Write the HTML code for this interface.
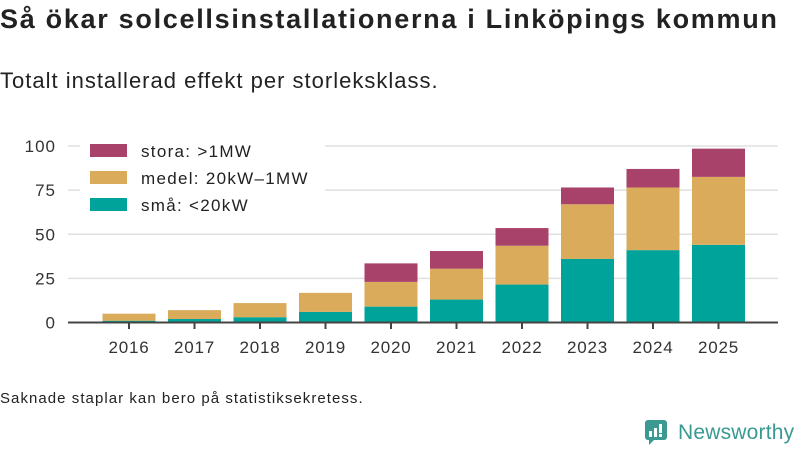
<!DOCTYPE html>
<html><head><meta charset="utf-8"><style>
body{margin:0;width:800px;height:450px;background:#fff;font-family:"Liberation Sans","DejaVu Sans",sans-serif;overflow:hidden;position:relative}
.t{position:absolute;left:0;top:4px;font-size:27px;font-weight:bold;color:#222;letter-spacing:1.7px}
.s{position:absolute;left:0;top:68px;font-size:22px;color:#222;letter-spacing:1px}
.n{position:absolute;left:0;top:390px;font-size:15px;color:#222;letter-spacing:1.05px}
</style></head><body>
<div class="t">Så ökar solcellsinstallationerna i Linköpings kommun</div>
<div class="s">Totalt installerad effekt per storleksklass.</div>
<svg id="c" width="800" height="450" style="position:absolute;left:0;top:0"></svg>
<div class="n">Saknade staplar kan bero på statistiksekretess.</div>
<div style="position:absolute;left:645px;top:420px;display:flex;align-items:center">
<svg width="24" height="26"><rect x="0" y="0" width="22" height="20" rx="3" fill="#3a9a92"/><polygon points="4,19 10,19 4,25" fill="#3a9a92"/><rect x="4" y="11" width="3" height="6" fill="#fff"/><rect x="9" y="8" width="3" height="9" fill="#fff"/><rect x="14" y="4" width="3" height="9" fill="#fff"/><rect x="14" y="14" width="3" height="3" fill="#fff"/></svg>
<span style="font-size:21px;color:#3a9a92;margin-left:9px;letter-spacing:0.2px">Newsworthy</span></div>
<script>
const years=["2016","2017","2018","2019","2020","2021","2022","2023","2024","2025"];
const small=[1,2,3,6,9,13,21.5,36,41,44];
const medium=[4,5,8,10.8,14,17.5,22,31,35.5,38.5];
const large=[0,0,0,0,10.5,10,10,9.5,10.5,16];
const yTicks=[0,25,50,75,100];
const svg=document.getElementById('c');const NS='http://www.w3.org/2000/svg';
function el(t,a,p){const e=document.createElementNS(NS,t);for(const k in a)e.setAttribute(k,a[k]);(p||svg).appendChild(e);return e;}
const y=v=>322.5-v*1.765;const x=i=>129+i*65.5;const bw=53;
yTicks.forEach(t=>{
 if(t>0){const g=el('line',{x1:68,x2:778,y1:y(t),y2:y(t),stroke:'#e0e0e0','stroke-width':1.5});
 
 }
 const l=el('text',{x:56,y:y(t)+6,'text-anchor':'end','font-size':17,fill:'#333','letter-spacing':1});l.textContent=t;
 
 
});
const cols=['#00a39a','#d9ab5a','#a8426a'];const series=[small,medium,large];
years.forEach((yr,i)=>{let base=0;
 series.forEach((s,k)=>{if(s[i]>0){const r=el('rect',{x:x(i)-bw/2,y:y(base+s[i]),width:bw,height:y(base)-y(base+s[i]),fill:cols[k]});
 
 }
 base+=s[i];});
 const tk=el('line',{x1:x(i),x2:x(i),y1:323,y2:329,stroke:'#444','stroke-width':2});
 
 
 const l=el('text',{x:x(i),y:353,'text-anchor':'middle','font-size':17,fill:'#333','letter-spacing':0.8});l.textContent=yr;
 
 
});
const ax=el('line',{x1:68,x2:778,y1:322.5,y2:322.5,stroke:'#444','stroke-width':2});


const bg=el('rect',{x:80,y:136,width:245,height:85,fill:'#fff'});


const lg=[['stora: >1MW','#a8426a'],['medel: 20kW–1MW','#d9ab5a'],['små: <20kW','#00a39a']];
lg.forEach((d,k)=>{const r=el('rect',{x:90,y:144+k*27,width:37,height:13,fill:d[1]});
 
 
 const t=el('text',{x:141,y:157+k*27,'font-size':17,fill:'#222','letter-spacing':1.3});t.textContent=d[0];
 
 });
</script>
</body></html>
